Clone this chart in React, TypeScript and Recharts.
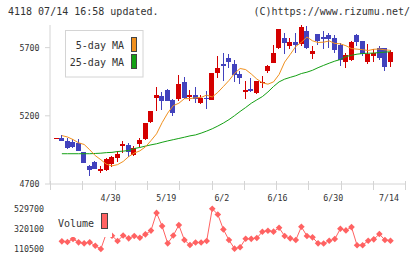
import React from 'react';
import { ComposedChart, LineChart, Bar, Line, XAxis, YAxis, Legend } from 'recharts';

// Daily candles (61 sessions), oldest first
const openPrices = [5035, 5040, 5018, 5006, 4999, 4935, 4833, 4864, 4798, 4803, 4847, 4889, 4982, 4987, 4916, 4994, 5033, 5158, 5331, 5346, 5390, 5317, 5324, 5449, 5341, 5353, 5297, 5331, 5317, 5511, 5583, 5627, 5583, 5507, 5377, 5397, 5370, 5441, 5529, 5590, 5700, 5769, 5715, 5740, 5727, 5822, 5656, 5800, 5778, 5793, 5769, 5720, 5597, 5610, 5793, 5749, 5597, 5641, 5696, 5696, 5597];
const highPrices = [5036, 5060, 5036, 5031, 5031, 4935, 4836, 4870, 4833, 4889, 4908, 4943, 5018, 5004, 4979, 5040, 5146, 5236, 5410, 5375, 5395, 5322, 5500, 5487, 5390, 5410, 5353, 5383, 5517, 5639, 5659, 5656, 5610, 5531, 5456, 5476, 5456, 5493, 5573, 5720, 5837, 5806, 5769, 5806, 5866, 5859, 5712, 5800, 5822, 5810, 5793, 5732, 5659, 5749, 5800, 5749, 5727, 5688, 5712, 5696, 5683];
const lowPrices = [5035, 5018, 4957, 4967, 4945, 4857, 4762, 4811, 4779, 4796, 4828, 4864, 4930, 4901, 4906, 4974, 5023, 5146, 5236, 5243, 5309, 5199, 5309, 5324, 5309, 5292, 5287, 5253, 5317, 5480, 5456, 5553, 5449, 5434, 5324, 5375, 5361, 5407, 5517, 5590, 5688, 5652, 5688, 5663, 5712, 5688, 5617, 5720, 5688, 5696, 5663, 5568, 5553, 5602, 5715, 5641, 5578, 5597, 5610, 5531, 5561];
const closePrices = [5036, 5018, 4962, 4974, 4945, 4857, 4803, 4811, 4811, 4882, 4901, 4919, 4994, 4938, 4965, 5023, 5146, 5236, 5353, 5311, 5311, 5223, 5434, 5329, 5353, 5326, 5331, 5324, 5517, 5553, 5568, 5595, 5500, 5480, 5390, 5383, 5456, 5449, 5566, 5663, 5837, 5737, 5740, 5720, 5854, 5700, 5676, 5751, 5764, 5764, 5683, 5610, 5646, 5740, 5744, 5654, 5654, 5659, 5622, 5561, 5666];

// Moving averages
const ma5 = [null, 5055, 5045, 5026, 5002, 4990, 4951, 4908, 4878, 4845, 4833, 4842, 4865, 4901, 4927, 4943, 4972, 5018, 5068, 5150, 5220, 5275, 5292, 5326, 5326, 5332, 5335, 5352, 5338, 5372, 5415, 5459, 5511, 5547, 5539, 5507, 5470, 5442, 5432, 5449, 5503, 5594, 5650, 5709, 5739, 5778, 5750, 5738, 5740, 5749, 5731, 5728, 5714, 5693, 5689, 5685, 5679, 5688, 5690, 5684, 5680];
const ma25 = [null, 4922, 4922, 4922, 4922, 4922, 4922, 4924, 4926, 4930, 4932, 4938, 4941, 4946, 4960, 4968, 4978, 4987, 4995, 5006, 5016, 5025, 5034, 5043, 5053, 5060, 5073, 5088, 5105, 5125, 5147, 5172, 5201, 5232, 5261, 5292, 5317, 5341, 5375, 5415, 5449, 5469, 5482, 5494, 5510, 5520, 5534, 5553, 5570, 5586, 5601, 5613, 5635, 5644, 5652, 5657, 5659, 5660, 5664, 5667, 5670];

// Traded volume
const volumes = [null, 190200, 184000, 215000, 179900, 169500, 179900, 143600, 110500, 276100, 248200, 194300, 250200, 221300, 245100, 227500, 262700, 302000, 486200, 348600, 169500, 250200, 358900, 203700, 151900, 177800, 177800, 193300, 529700, 469700, 314400, 203700, 114000, 128100, 217100, 216000, 224400, 289600, 300000, 291000, 331000, 245100, 221300, 203700, 341300, 246000, 231600, 169500, 168000, 196400, 214000, 320600, 304100, 338200, 148800, 150000, 196400, 210900, 265800, 203700, 196400];

const dateTicks = [11, 21, 31, 41, 51, 61];
const dateLabels = ['4/30', '5/19', '6/2', '6/16', '6/30', '7/14'];
const priceTicks = [4700, 5200, 5700];
const volumeTicks = [110500, 320100, 529700];

const RED = '#d40000';
const BLUE = '#4242bd';
const ORANGE = '#f0901e';
const GREEN = '#14a014';
const VOL = '#ff6262';
const AXIS = '#d4d4d4';
const TEXT = '#333333';
const MONO = '"DejaVu Sans Mono", "Liberation Mono", monospace';

const X_DOMAIN: [number, number] = [-0.13, 63.66];
const FRAME_DIVISIONS = 11;
const frameTicks = Array.from({ length: FRAME_DIVISIONS + 1 }, (_, k) =>
  k === FRAME_DIVISIONS ? X_DOMAIN[1] : X_DOMAIN[0] + (k * (X_DOMAIN[1] - X_DOMAIN[0])) / FRAME_DIVISIONS
);
const axisTicks = [...frameTicks, ...dateTicks].sort((a, b) => a - b);

const candles = openPrices.map((open, k) => ({
  i: k + 1,
  open,
  high: highPrices[k],
  low: lowPrices[k],
  close: closePrices[k],
  ma5: ma5[k],
  ma25: ma25[k],
}));

const volumeData = volumes.map((v, k) => ({ i: k + 1, volume: v }));

function CandleShape(props: any) {
  const { x, y, width, height, payload } = props;
  if (!payload || x == null || y == null) return <g />;
  const { open, high, low, close } = payload;
  const top = Math.min(y, y + height);
  const span = Math.abs(height);
  const range = high - low;
  const toY = (v: number) => (range > 0 ? top + ((high - v) / range) * span : top);
  const color = close >= open ? RED : BLUE;
  const w = 5;
  const left = Math.round(x + width / 2 - w / 2);
  const wickX = left + 2.5;
  const bodyTop = Math.round(toY(Math.max(open, close)));
  const bodyBottom = Math.round(toY(Math.min(open, close)));
  return (
    <g shapeRendering="crispEdges">
      <line x1={wickX} x2={wickX} y1={Math.round(toY(high))} y2={Math.round(toY(low))} stroke={color} strokeWidth={1} />
      <rect x={left} y={bodyTop} width={w} height={Math.max(1, bodyBottom - bodyTop)} fill={color} />
    </g>
  );
}

// Date labels sit on their session; the remaining ticks are the frame's cross marks
const renderAxisTick = (props: any) => {
  const { x, y, payload } = props;
  const pos = dateTicks.indexOf(payload.value);
  if (pos >= 0) {
    return (
      <text x={x - 1.5} y={y + 17} textAnchor="middle" fontSize={8.3} fill={TEXT} fontFamily={MONO}>
        {dateLabels[pos]}
      </text>
    );
  }
  const lx = Math.round(x) + 0.5;
  return <line x1={lx} x2={lx} y1={y - 3.5} y2={y + 5.5} stroke={AXIS} strokeWidth={1} shapeRendering="crispEdges" />;
};

const Diamond = (props: any) => {
  const { cx, cy, payload } = props;
  if (cx == null || cy == null || payload?.volume == null) return <g />;
  const r = 3.3;
  return <polygon points={`${cx},${cy - r} ${cx + r},${cy} ${cx},${cy + r} ${cx - r},${cy}`} fill={VOL} />;
};

const MaLegend = () => (
  <svg width={79} height={48} style={{ display: 'block' }}>
    <rect x={0.5} y={0.5} width={77.5} height={46.5} fill="#fff" stroke={AXIS} />
    <text x={59} y={19.3} textAnchor="end" fontSize={10} fontFamily={MONO} fill={TEXT}>5-day MA</text>
    <text x={59} y={36} textAnchor="end" fontSize={10} fontFamily={MONO} fill={TEXT}>25-day MA</text>
    <rect x={66.5} y={7.5} width={5} height={14} fill={ORANGE} stroke="#444" shapeRendering="crispEdges" />
    <rect x={66.5} y={24.5} width={5} height={14} fill={GREEN} stroke="#444" shapeRendering="crispEdges" />
  </svg>
);

const VolumeLegend = () => (
  <svg width={56} height={26} style={{ display: 'block' }}>
    <rect x={0} y={0} width={56} height={26} fill="#fff" />
    <text x={2} y={15.5} fontSize={10} fontFamily={MONO} fill={TEXT}>Volume</text>
    <rect x={45.5} y={2.5} width={6} height={15} fill={VOL} stroke="#444" shapeRendering="crispEdges" />
  </svg>
);

export default function App() {
  return (
    <div style={{ position: 'absolute', left: 0, top: 0, width: 420, height: 259, background: '#fff', overflow: 'hidden' }}>
      <svg width={420} height={259} style={{ position: 'absolute', left: 0, top: 0 }}>
        <text x={8} y={15} fontSize={10} fontFamily={MONO} fill={TEXT}>4118 07/14 16:58 updated.</text>
        <text x={410} y={15} textAnchor="end" fontSize={10} fontFamily={MONO} fill={TEXT}>(C)https://www.rizumu.net/</text>
      </svg>

      <div style={{ position: 'absolute', left: 0, top: 0 }}>
        <ComposedChart width={420} height={259} data={candles} margin={{ top: 25, right: 14.7, bottom: 45, left: 0 }}>
          <XAxis
            dataKey="i"
            type="number"
            domain={X_DOMAIN}
            allowDataOverflow
            ticks={axisTicks}
            interval={0}
            tickLine={false}
            tickSize={0}
            tickMargin={0}
            height={30}
            axisLine={{ stroke: AXIS }}
            tick={renderAxisTick}
          />
          <YAxis
            yAxisId="price"
            domain={[4700, 5866]}
            allowDataOverflow
            ticks={priceTicks}
            interval={0}
            width={50}
            tickSize={5}
            tickMargin={5.5}
            axisLine={{ stroke: AXIS }}
            tickLine={{ stroke: AXIS }}
            tick={{ fontSize: 8.3, fill: TEXT, fontFamily: MONO }}
          />
          <Bar
            yAxisId="price"
            dataKey={(d: any) => [d.low, d.high]}
            barSize={5}
            shape={(p: any) => <CandleShape {...p} />}
            isAnimationActive={false}
          />
          <Line yAxisId="price" type="linear" dataKey="ma25" stroke={GREEN} strokeWidth={1} dot={false} activeDot={false} isAnimationActive={false} />
          <Line yAxisId="price" type="linear" dataKey="ma5" stroke={ORANGE} strokeWidth={1} dot={false} activeDot={false} isAnimationActive={false} />
          <Legend
            layout="horizontal"
            verticalAlign="middle"
            align="center"
            wrapperStyle={{ left: 65, top: 30, width: 79, height: 48 }}
            content={() => <MaLegend />}
          />
        </ComposedChart>
      </div>

      <div style={{ position: 'absolute', left: 0, top: 0 }}>
        <LineChart width={420} height={259} data={volumeData} margin={{ top: 208.7, right: 14.7, bottom: 10, left: 0 }}>
          <XAxis dataKey="i" type="number" domain={X_DOMAIN} allowDataOverflow hide />
          <YAxis
            domain={[110500, 529700]}
            ticks={volumeTicks}
            interval={0}
            width={50}
            axisLine={false}
            tickLine={false}
            tickSize={0}
            tickMargin={6}
            tick={{ fontSize: 8.3, fill: TEXT, fontFamily: MONO }}
          />
          <Line
            type="linear"
            dataKey="volume"
            stroke={VOL}
            strokeWidth={1}
            dot={(p: any) => <Diamond key={p.index} {...p} />}
            activeDot={false}
            isAnimationActive={false}
          />
          <Legend
            layout="horizontal"
            verticalAlign="middle"
            align="center"
            wrapperStyle={{ left: 56, top: 211, width: 56, height: 26 }}
            content={() => <VolumeLegend />}
          />
        </LineChart>
      </div>
    </div>
  );
}
